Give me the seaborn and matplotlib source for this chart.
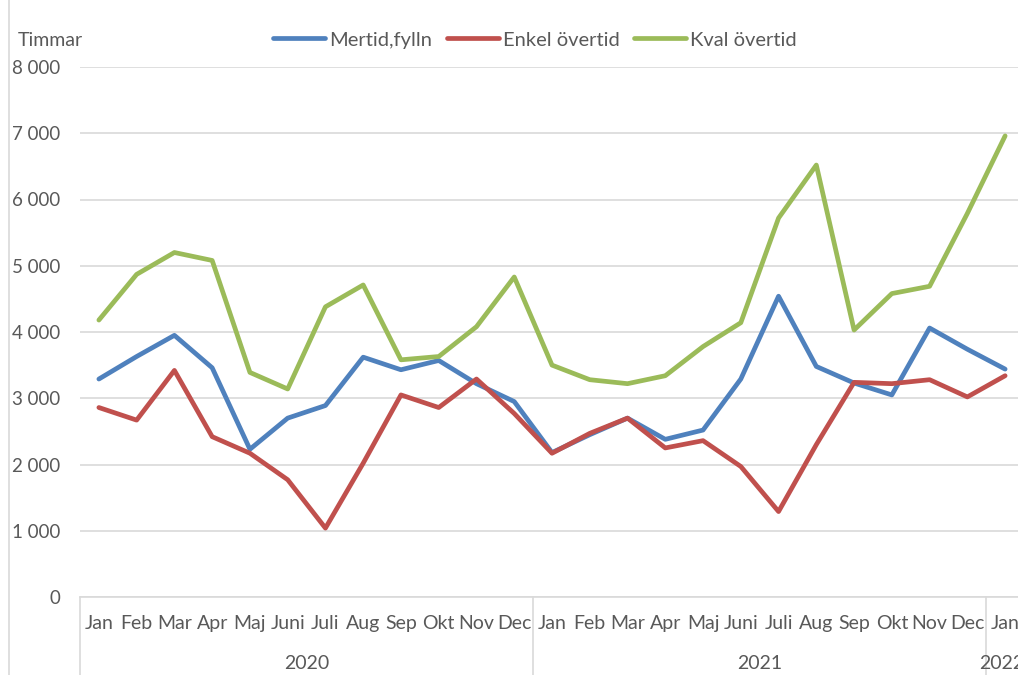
import numpy as np
import pandas as pd
import matplotlib
matplotlib.use("Agg")
import matplotlib.pyplot as plt
from matplotlib.lines import Line2D
import seaborn as sns

# months on the category axis, Jan 2020 - Jan 2022
months = ["Jan", "Feb", "Mar", "Apr", "Maj", "Juni", "Juli", "Aug", "Sep", "Okt", "Nov", "Dec",
          "Jan", "Feb", "Mar", "Apr", "Maj", "Juni", "Juli", "Aug", "Sep", "Okt", "Nov", "Dec",
          "Jan"]
years = ["2020", "2021", "2022"]
year_lengths = [12, 12, 1]

series_names = ["Mertid,fylln", "Enkel övertid", "Kval övertid"]
mertid = [3290, 3630, 3950, 3460, 2230, 2700, 2890, 3620, 3430, 3570, 3220, 2950,
          2180, 2450, 2700, 2380, 2520, 3290, 4540, 3480, 3230, 3050, 4060, 3740, 3440]
enkel = [2860, 2670, 3420, 2420, 2170, 1770, 1040, 2020, 3050, 2860, 3290, 2770,
         2170, 2470, 2700, 2250, 2360, 1970, 1290, 2300, 3240, 3220, 3280, 3020, 3340]
kval = [4180, 4870, 5200, 5080, 3390, 3140, 4380, 4710, 3580, 3630, 4080, 4830,
        3500, 3280, 3220, 3340, 3780, 4140, 5720, 6520, 4030, 4580, 4690, 5790, 6960]

colors = ["#4F81BD", "#C0504D", "#9BBB59"]
text_col = "#595959"
grid_col = "#D9D9D9"
fs = 14

df = pd.concat([
    pd.DataFrame({"idx": np.arange(len(months)), "value": vals, "serie": name})
    for name, vals in zip(series_names, [mertid, enkel, kval])
])

sns.set_theme(style="white")
plt.rcParams["font.family"] = ["Lato", "DejaVu Sans"]

W, H = 1018, 675
fig = plt.figure(figsize=(W / 100, H / 100), dpi=100)
# plot area runs a bit past the right edge, like the cropped original
x0, x1, y0, y1 = 80, 1024, 597, 67
ax = fig.add_axes([x0 / W, (H - y0) / H, (x1 - x0) / W, (y0 - y1) / H])

sns.lineplot(data=df, x="idx", y="value", hue="serie", palette=colors,
             linewidth=3.4, ax=ax, legend=False, solid_capstyle="round",
             solid_joinstyle="round")

ax.set_xlim(-0.5, len(months) - 0.5)
ax.set_ylim(0, 8000)
yt = np.arange(0, 8001, 1000)
ax.set_yticks(yt)
ax.set_yticklabels([f"{v:,}".replace(",", " ") for v in yt])
ax.yaxis.grid(True, color=grid_col, linewidth=1.2)
ax.set_axisbelow(True)
ax.set_xticks(np.arange(len(months)))
ax.set_xticklabels(months)
ax.tick_params(axis="both", length=0, colors=text_col, labelsize=fs)
ax.tick_params(axis="y", pad=14, labelsize=13.5)
ax.tick_params(axis="x", pad=13)
ax.set_xlabel("")
ax.set_ylabel("")
for s in ["left", "right", "top"]:
    ax.spines[s].set_visible(False)
ax.spines["bottom"].set_color(grid_col)
ax.spines["bottom"].set_linewidth(1.2)

# year group labels and separators under the month labels
trans = ax.get_xaxis_transform()
sep_depth = -(H - y0) / (y0 - y1)
start = 0
for yr, n in zip(years, year_lengths):
    ax.plot([start - 0.5, start - 0.5], [0, sep_depth], transform=trans,
            color=grid_col, linewidth=1.2, clip_on=False)
    center = start + (n - 1) / 2 if n > 1 else start - 0.1
    ax.text(center, -0.125, yr, transform=trans, ha="center", va="center",
            fontsize=fs, color=text_col)
    start += n

# chart frame line on the far left
fig.add_artist(Line2D([9 / W, 9 / W], [0, 1], color=grid_col, linewidth=1.2))

fig.text(18 / W, 1 - 40 / H, "Timmar", ha="left", va="center", fontsize=fs, color=text_col)

handles = [Line2D([], [], color=c, linewidth=3.4, solid_capstyle="round") for c in colors]
fig.legend(handles, series_names, loc="center", bbox_to_anchor=(535 / W, 1 - 40 / H),
           ncol=3, frameon=False, fontsize=14.5, handlelength=2.6, handletextpad=0.2,
           columnspacing=0.7, labelcolor=text_col)

fig.savefig("out.png", dpi=100, facecolor="white")
